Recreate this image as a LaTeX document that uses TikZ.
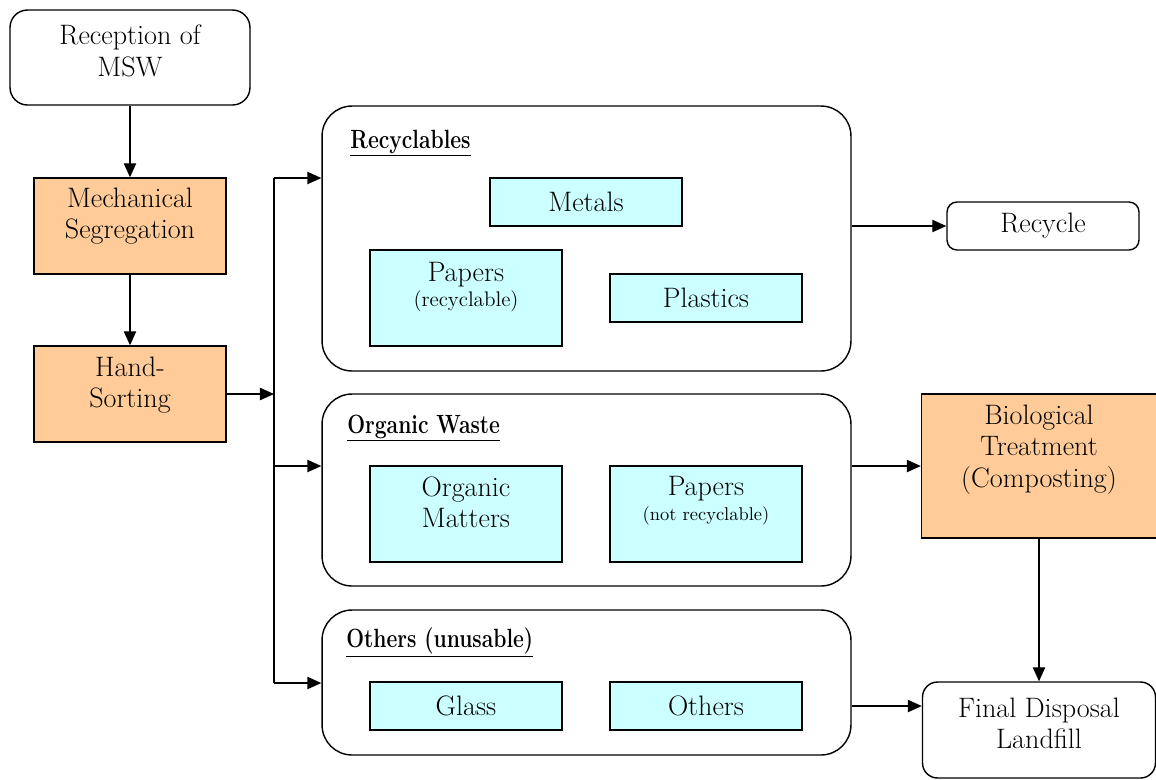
\documentclass[tikz,border=0pt]{standalone}
\usepackage{fontspec}
\usepackage{tikz}
\usetikzlibrary{positioning,arrows.meta}
\definecolor{wsorange}{HTML}{FFCC99}
\definecolor{wscyan}{HTML}{CCFFFF}
\newcommand\mainsz{\fontsize{16}{18}\selectfont}
\newcommand\smallsz{\fontsize{12}{14}\selectfont}
\newcommand\titlesz{\fontsize{15}{17}\selectfont\bfseries}
\newcommand\grplab[1]{\underline{\scalebox{0.8}[1]{#1}}}
\tikzset{
  flowline/.style={line width=0.8pt,-{Triangle[length=8pt,width=7pt]}},
  orbox/.style={draw,line width=0.8pt,fill=wsorange,minimum width=3.84cm,minimum height=1.92cm,inner sep=0pt},
  cybox/.style={draw,line width=0.8pt,fill=wscyan,minimum width=3.84cm,minimum height=0.96cm,inner sep=0pt,font=\mainsz},
  endbox/.style={draw,line width=0.8pt,fill=white,inner sep=0pt},
  grpbox/.style={draw,line width=0.8pt,rounded corners=0.6cm,minimum width=10.58cm,inner sep=0pt},
  boxtxt/.style={align=center,inner sep=0pt,font=\mainsz},
  grptitle/.style={anchor=base west,inner sep=0pt,font=\titlesz},
}
\begin{document}
\begin{tikzpicture}[x=0.02cm,y=-0.02cm]
  \useasboundingbox (0,0) rectangle (1156,779);
  % left column
  \node[endbox,rounded corners=0.35cm,minimum width=4.8cm,minimum height=1.9cm] (rec) at (130,57.5) {};
  \node[boxtxt,below=0.3cm of rec.north] (rectxt) {Reception of\\MSW};
  \node[orbox] (mech) at (130,226) {};
  \node[boxtxt,below=0.2cm of mech.north] (mechtxt) {Mechanical\\Segregation};
  \node[orbox] (hand) at (130,394) {};
  \node[boxtxt,below=0.22cm of hand.north] (handtxt) {Hand-\\Sorting};
  % groups
  \node[grpbox,minimum height=5.3cm] (grprec) at (586.5,238.5) {};
  \node[grpbox,minimum height=3.84cm] (grporg) at (586.5,490) {};
  \node[grpbox,minimum height=2.9cm] (grpoth) at (586.5,682.5) {};
  \node[grptitle] (titrec) at (350,148) {\grplab{Recyclables}};
  \node[grptitle] (titorg) at (347,433) {\grplab{Organic Waste}};
  \node[grptitle] (titoth) at (346,647) {\grplab{Others (unusable)}};
  % contents
  \foreach \nm/\px/\py/\lab in {metals/586/202/Metals, plastics/706/298/Plastics,
      glass/466/706/Glass, others/706/706/Others} {
    \node[cybox] (\nm) at (\px,\py) {\lab};
  }
  \node[cybox,minimum height=1.92cm] (paprec) at (466,298) {};
  \node[boxtxt,below=0.26cm of paprec.north] (paprectxt) {Papers\\[-4pt]{\smallsz (recyclable)}};
  \node[cybox,minimum height=1.92cm] (orgm) at (466,514) {};
  \node[boxtxt,below=0.22cm of orgm.north] (orgmtxt) {Organic\\Matters};
  \node[cybox,minimum height=1.92cm] (papnr) at (706,514) {};
  \node[boxtxt,below=0.22cm of papnr.north] (papnrtxt) {Papers\\[-4pt]{\fontsize{10.5}{13}\selectfont (not recyclable)}};
  % right column
  \node[endbox,rounded corners=0.2cm,minimum width=3.84cm,minimum height=0.96cm,font=\mainsz] (recycle) at (1043,226) {Recycle};
  \node[orbox,minimum width=4.7cm,minimum height=2.88cm] (bio) at (1039,466) {};
  \node[boxtxt,below=0.22cm of bio.north] (biotxt) {Biological\\Treatment\\(Composting)};
  \node[endbox,rounded corners=0.3cm,minimum width=4.66cm,minimum height=1.92cm] (final) at (1039,730) {};
  \node[boxtxt,below=0.32cm of final.north] (finaltxt) {Final Disposal\\Landfill};
  % bus
  \coordinate (bustop) at (274,178);
  \coordinate (busmid) at (274,466);
  \coordinate (busbot) at (274,683);
  \draw[line width=0.8pt] (bustop) -- (busbot);
  % connectors
  \draw[flowline] (rec.south) -- (mech.north);
  \draw[flowline] (mech.south) -- (hand.north);
  \draw[flowline] (hand.east) -- (hand.east -| bustop);
  \draw[flowline] (bustop) -- (bustop -| grprec.west);
  \draw[flowline] (busmid) -- (busmid -| grporg.west);
  \draw[flowline] (busbot) -- (busbot -| grpoth.west);
  \draw[flowline] (recycle.west -| grprec.east) -- (recycle.west);
  \draw[flowline] (bio.west -| grporg.east) -- (bio.west);
  \draw[flowline] (others -| grpoth.east) -- (others -| final.west);
  \draw[flowline] (bio.south) -- (final.north);
\end{tikzpicture}
\end{document}
